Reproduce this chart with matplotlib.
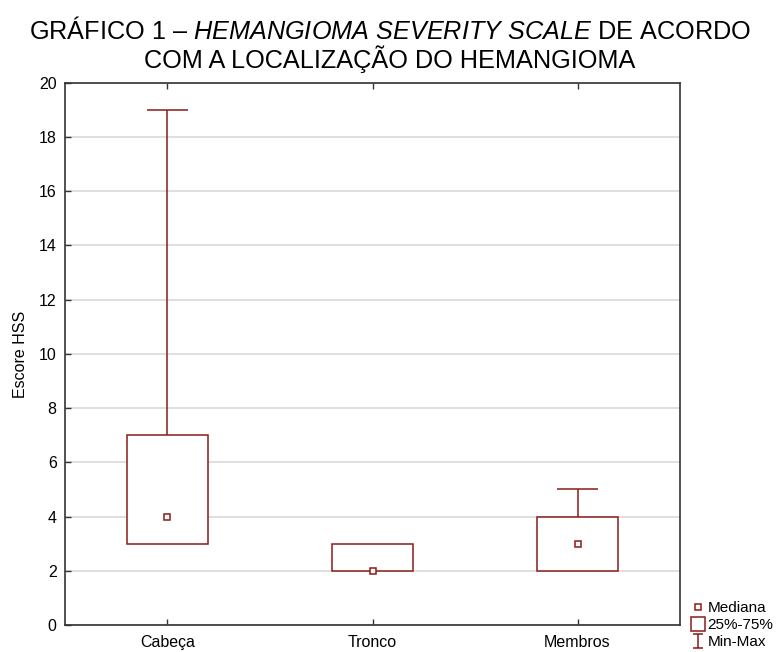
import numpy as np
import matplotlib
matplotlib.use('Agg')
import matplotlib.pyplot as plt
from matplotlib.lines import Line2D
from matplotlib.path import Path

plt.rcParams['font.family'] = ['Liberation Sans', 'DejaVu Sans']
plt.rcParams['mathtext.fontset'] = 'custom'
plt.rcParams['mathtext.rm'] = 'Liberation Sans'
plt.rcParams['mathtext.it'] = 'Liberation Sans:italic'

categories = ['Cabeça', 'Tronco', 'Membros']
medians = [4, 2, 3]
q1 = [3, 2, 2]
q3 = [7, 3, 4]
mins = [3, 2, 2]
maxs = [19, 3, 5]

red = '#8b1a1a'
x = np.arange(len(categories))

fig = plt.figure(figsize=(7.79, 6.52), dpi=100)
ax = fig.add_axes([0.0834, 0.0414, 0.7896, 0.8316])

ax.set_axisbelow(True)
ax.yaxis.grid(True, color='#d9d9d9', linewidth=1.2)

# whiskers (min-max), only where they extend past the box
for xi, lo, hi, a, b in zip(x, q1, q3, mins, maxs):
    if b > hi:
        ax.vlines(xi, hi, b, color=red, linewidth=1.1, zorder=2)
        ax.hlines(b, xi - 0.1, xi + 0.1, color=red, linewidth=1.1, zorder=2)
    if a < lo:
        ax.vlines(xi, a, lo, color=red, linewidth=1.1, zorder=2)
        ax.hlines(a, xi - 0.1, xi + 0.1, color=red, linewidth=1.1, zorder=2)

# boxes 25-75
ax.bar(x, np.array(q3) - np.array(q1), bottom=q1, width=0.395,
       facecolor='white', edgecolor=red, linewidth=1.1, zorder=3)

# medians
ax.plot(x, medians, 's', markersize=5, markerfacecolor='white',
        markeredgecolor=red, markeredgewidth=1.1, linestyle='none', zorder=4)

ax.set_xlim(-0.5, 2.5)
ax.set_ylim(0, 20)
ax.set_yticks(np.arange(0, 21, 2))
ax.set_xticks(x)
ax.set_xticklabels(categories)
ax.tick_params(axis='both', direction='in', length=4, width=1, colors='#333333',
               labelcolor='black', labelsize=11.5)
ax.tick_params(axis='x', top=True, pad=7)
ax.tick_params(axis='y', pad=6)
for s in ax.spines.values():
    s.set_color('#333333')
    s.set_linewidth(1.2)
ax.set_ylabel('Escore HSS', fontsize=11.5, labelpad=8)

fig.text(0.5, 0.953, 'GRÁFICO 1 – $HEMANGIOMA\\ SEVERITY\\ SCALE$ DE ACORDO',
         ha='center', va='center', fontsize=18.2)
fig.text(0.5, 0.909, 'COM A LOCALIZAÇÃO DO HEMANGIOMA',
         ha='center', va='center', fontsize=18.2)

# legend
ibeam = Path([(-0.7, 1), (0.7, 1), (0, 1), (0, -1), (-0.7, -1), (0.7, -1)],
             [Path.MOVETO, Path.LINETO, Path.MOVETO, Path.LINETO, Path.MOVETO, Path.LINETO])
handles = [
    Line2D([], [], marker='s', markersize=5, markerfacecolor='white', markeredgecolor=red,
           markeredgewidth=1.1, linestyle='none'),
    Line2D([], [], marker='s', markersize=10, markerfacecolor='white', markeredgecolor=red,
           markeredgewidth=1.1, linestyle='none'),
    Line2D([], [], marker=ibeam, markersize=10, color=red, markeredgewidth=1.1, linestyle='none'),
]
fig.legend(handles, ['Mediana', '25%-75%', 'Min-Max'], loc='lower left',
           bbox_to_anchor=(0.874, -0.012), frameon=False, fontsize=11,
           handlelength=0.8, handletextpad=0.25, labelspacing=0.2, borderpad=0.2)

fig.savefig('out.png', dpi=100)
